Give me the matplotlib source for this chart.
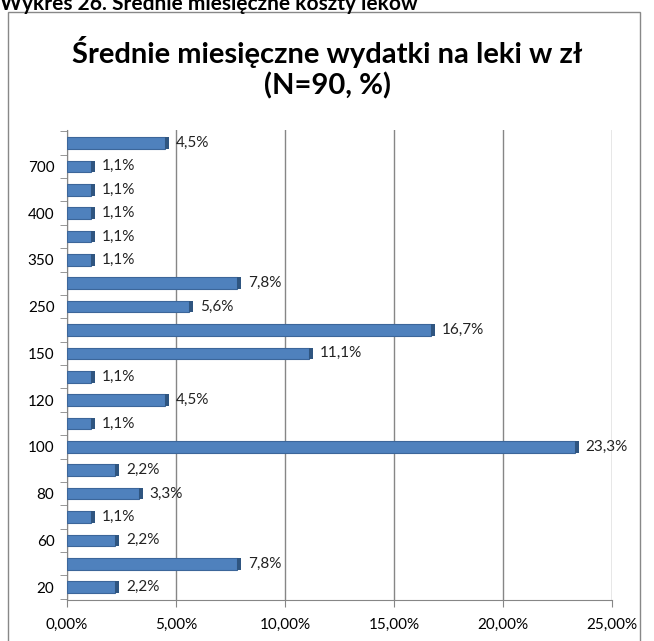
import matplotlib.pyplot as plt
from matplotlib.patches import Rectangle

plt.rcParams['font.family'] = ['Lato', 'DejaVu Sans']

# categories bottom -> top (only every other one is labelled in the chart)
amounts = ['20', '50', '60', '70', '80', '90', '100', '110', '120', '130',
           '150', '200', '250', '300', '350', '380', '400', '500', '700', '1000']
percents = [2.2, 7.8, 2.2, 1.1, 3.3, 2.2, 23.3, 1.1, 4.5, 1.1,
            11.1, 16.7, 5.6, 7.8, 1.1, 1.1, 1.1, 1.1, 1.1, 4.5]
xticks = [0, 5, 10, 15, 20, 25]

fig = plt.figure(figsize=(6.54, 6.41), dpi=100)
ax = fig.add_axes([0.1024, 0.064, 0.8333, 0.733])

ypos = list(range(len(amounts)))
ax.barh(ypos, percents, height=0.5, color='#4F81BD', edgecolor='#3C669A',
        linewidth=0.8, zorder=3)
# darker end face to mimic the 3D look
ax.barh(ypos, [0.18] * len(ypos), left=percents, height=0.5, color='#2F5580',
        linewidth=0, zorder=3)
for y, v in zip(ypos, percents):
    ax.text(v + 0.5, y, ('%.1f%%' % v).replace('.', ','), va='center',
            ha='left', fontsize=11, color='#222222')

ax.set_xlim(0, 25)
ax.set_ylim(-0.55, len(amounts) - 0.45)
ax.set_xticks(xticks)
ax.set_xticklabels([('%.2f%%' % t).replace('.', ',') for t in xticks], fontsize=11)
ax.set_yticks(ypos[::2])
ax.set_yticklabels(amounts[::2], fontsize=11)
ax.set_yticks([i - 0.5 for i in range(len(amounts) + 1)], minor=True)
ax.tick_params(axis='y', which='major', length=0, pad=9)
ax.tick_params(axis='y', which='minor', length=5, color='#868686')
ax.tick_params(axis='x', length=5, color='#868686', pad=8)
ax.grid(axis='x', color='#868686', linewidth=1, zorder=0)
for s in ['top', 'right']:
    ax.spines[s].set_visible(False)
for s in ['left', 'bottom']:
    ax.spines[s].set_color('#868686')

fig.text(0.5, 0.894, 'Średnie miesięczne wydatki na leki w zł\n(N=90, %)',
         ha='center', va='center', fontsize=21, fontweight='bold',
         linespacing=1.2)
fig.text(0.0, 0.997, 'Wykres 26. Średnie miesięczne koszty leków',
         ha='left', va='center', fontsize=15, fontweight='bold')
fig.patches.append(Rectangle((0.0122, -0.01), 0.966, 0.991, transform=fig.transFigure,
                             fill=False, edgecolor='#888888', linewidth=1))

fig.savefig('out.png', dpi=100)
